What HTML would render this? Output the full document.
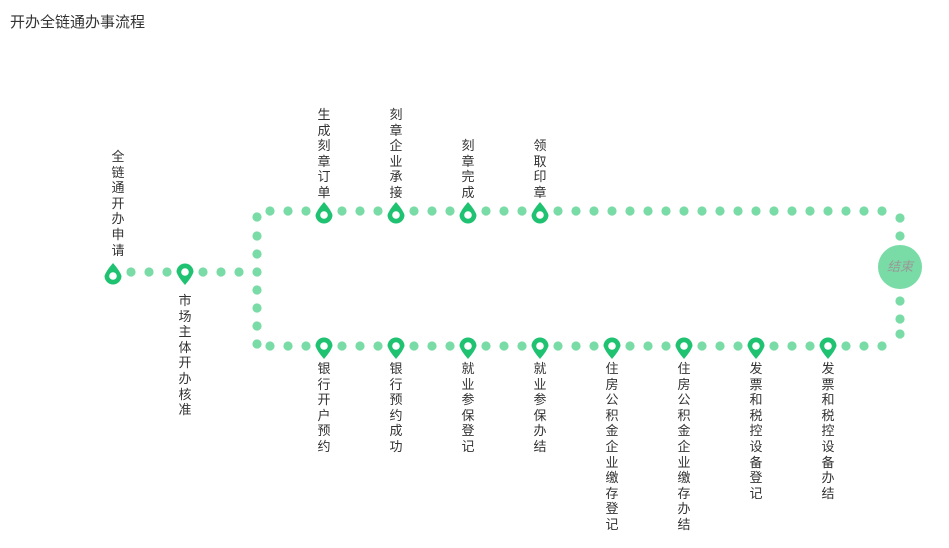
<!DOCTYPE html>
<html><head><meta charset="utf-8"><style>
body{margin:0;width:949px;height:548px;background:#fff;position:relative;overflow:hidden;font-family:"Liberation Sans","Noto Sans CJK SC",sans-serif}
.t{position:absolute;left:10px;top:11px;font-size:15px;color:#333}
.v{position:absolute;width:14px;font-size:13px;line-height:15.6px;color:#333;text-align:center;word-break:break-all}
svg{position:absolute;left:0;top:0}
.end{position:absolute;left:878px;top:245px;width:44px;height:44px;border-radius:50%;background:#79dba5;color:#999;font-style:italic;font-size:13px;line-height:44px;text-align:center}
</style></head><body>
<div class="t">开办全链通办事流程</div>
<svg id="s" width="949" height="548"></svg>
<div class="end">结束</div>
<div class="v" style="left:111px;top:149px">全链通开办申请</div>
<div class="v" style="left:178px;top:293px">市场主体开办核准</div>
<div class="v" style="left:317px;top:107px">生成刻章订单</div>
<div class="v" style="left:389px;top:107px">刻章企业承接</div>
<div class="v" style="left:461px;top:138px">刻章完成</div>
<div class="v" style="left:533px;top:138px">领取印章</div>
<div class="v" style="left:317px;top:361px">银行开户预约</div>
<div class="v" style="left:389px;top:361px">银行预约成功</div>
<div class="v" style="left:461px;top:361px">就业参保登记</div>
<div class="v" style="left:533px;top:361px">就业参保办结</div>
<div class="v" style="left:605px;top:361px">住房公积金企业缴存登记</div>
<div class="v" style="left:677px;top:361px">住房公积金企业缴存办结</div>
<div class="v" style="left:749px;top:361px">发票和税控设备登记</div>
<div class="v" style="left:821px;top:361px">发票和税控设备办结</div>
<script>
var s=document.getElementById('s'),h='';
function d(x,y){h+='<circle cx="'+x+'" cy="'+y+'" r="4.6" fill="#79dba5"/>';}
function pin(x,cy,up){var t=up?cy-13:cy+13,k=up?-5:5,sw=up?0:1;
h+='<path d="M'+(x-8.5)+' '+cy+' A8.5 8.5 0 1 '+sw+' '+(x+8.5)+' '+cy+' Q'+(x+7)+' '+(cy+k)+' '+x+' '+t+' Q'+(x-7)+' '+(cy+k)+' '+(x-8.5)+' '+cy+'Z" fill="#1fc271"/>';
h+='<circle cx="'+x+'" cy="'+cy+'" r="3.8" fill="#fff"/>';}
[131,149,167,203,221,239].forEach(function(x){d(x,272)});
pin(113,276,true);pin(185,272,false);
[217,236,254,272,290,308,326,344].forEach(function(y){d(257,y)});
var pins=[324,396,468,540];
for(var x=270;x<=882;x+=18){if(pins.indexOf(x)<0)d(x,211);}
var bp=[324,396,468,540,612,684,756,828];
for(var x=270;x<=882;x+=18){if(bp.indexOf(x)<0)d(x,346);}
pins.forEach(function(x){pin(x,215,true)});
bp.forEach(function(x){pin(x,346,false)});
[218,236,301,319,334].forEach(function(y){d(900,y)});
s.innerHTML=h;
</script>
</body></html>
